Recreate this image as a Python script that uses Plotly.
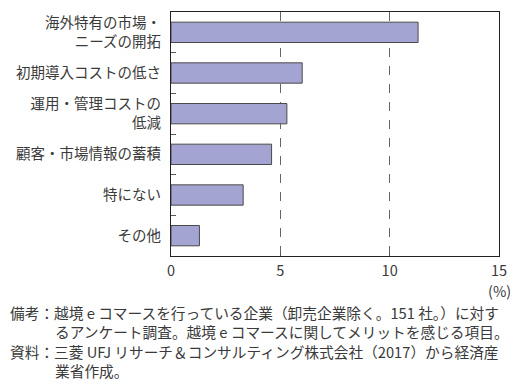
import plotly.graph_objects as go

categories = ["海外特有の市場・<br>ニーズの開拓", "初期導入コストの低さ", "運用・管理コストの<br>低減",
              "顧客・市場情報の蓄積", "特にない", "その他"]
values = [11.3, 6.0, 5.3, 4.6, 3.3, 1.3]
x_ticks = [0, 5, 10, 15]
unit_label = "(%)"
note_lines = [
    "備考：越境 e コマースを行っている企業（卸売企業除く。151 社。）に対す",
    "るアンケート調査。越境 e コマースに関してメリットを感じる項目。",
    "資料：三菱 UFJ リサーチ＆コンサルティング株式会社（2017）から経済産",
    "業省作成。",
]

FONT = "Noto Sans CJK JP"
TXT = "#3a3a3a"
OFF = 8  # page body margin
W, H = 529 - OFF, 391 - OFF
L, R, T, B = 171 - OFF, 30, 12 - OFF, 135
PH = H - T - B
PW = W - L - R

def px_x(px):
    return (px - OFF - L) / PW

def px_y(py):
    return (H - B - (py - OFF)) / PH

fig = go.Figure(go.Bar(
    x=values, y=categories, orientation="h",
    marker=dict(color="#A4A4D2", line=dict(color="#4a4a4a", width=1)),
    width=0.5,
))

fig.update_layout(
    width=W, height=H,
    margin=dict(l=L, r=R, t=T, b=B, autoexpand=False),
    paper_bgcolor="white", plot_bgcolor="white",
    showlegend=False,
    font=dict(family=FONT, size=14.5, color=TXT),
    bargap=0.5,
)
fig.update_xaxes(
    range=[0, 15], tickvals=x_ticks, ticktext=[str(v) for v in x_ticks],
    showgrid=True, gridcolor="#666666", griddash="dash", gridwidth=1,
    showline=True, linecolor="#222222", linewidth=1, mirror=True,
    ticks="inside", ticklen=4, tickcolor="#555555",
    zeroline=False, tickfont=dict(family=FONT, size=14.5, color=TXT),
    ticklabelstandoff=2, automargin=False,
)
fig.update_yaxes(
    categoryorder="array", categoryarray=categories, autorange="reversed",
    showline=True, linecolor="#222222", linewidth=1, mirror=True,
    ticks="inside", tickson="boundaries", ticklen=5, tickcolor="#555555",
    showgrid=False, tickfont=dict(family=FONT, size=14.5, color=TXT),
    ticklabelstandoff=6, automargin=False,
)

ann = [dict(text=unit_label, x=px_x(513), y=px_y(290), xref="paper", yref="paper",
            xanchor="right", yanchor="middle", showarrow=False,
            font=dict(family=FONT, size=14.5, color=TXT))]
note_pos = [(8, 312), (53, 331), (8, 351), (53, 370)]
for line, (nx, ny) in zip(note_lines, note_pos):
    ann.append(dict(text=line, x=px_x(nx), y=px_y(ny), xref="paper", yref="paper",
                    xanchor="left", yanchor="middle", showarrow=False,
                    font=dict(family=FONT, size=14.7, color=TXT)))
fig.update_layout(annotations=ann)

fig.write_html("out.html")
